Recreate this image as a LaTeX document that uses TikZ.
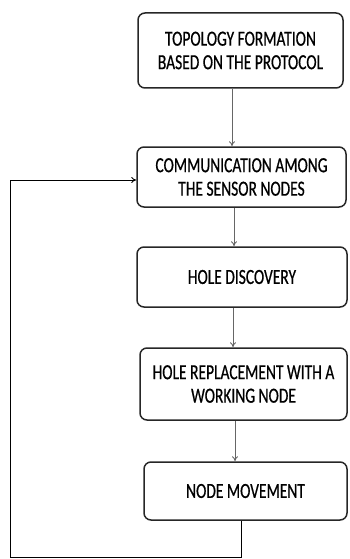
\documentclass[tikz,border=0pt]{standalone}
\usepackage{fontspec}
\setmainfont[FakeStretch=0.72,FakeBold=0.6]{Carlito}
\usetikzlibrary{arrows.meta}
\begin{document}
\begin{tikzpicture}[x=1pt,y=1pt,
  stepbox/.style={draw=black!85, line width=1.5pt, rounded corners=7pt, align=center,
    font=\fontsize{21.5}{23.5}\selectfont, inner sep=0pt, text=black},
  arr/.style={draw=black!60, line width=0.9pt, -{To[length=5pt,width=6pt]}},
  fbline/.style={draw=black, line width=0.9pt, -{To[length=5pt,width=6pt]}}]
\useasboundingbox (0,0) rectangle (349,-559);
\node[stepbox, minimum width=205pt, minimum height=75pt] (b1) at (240.5,-50.5) {TOPOLOGY FORMATION\\BASED ON THE PROTOCOL};
\node[stepbox, minimum width=209pt, minimum height=60pt] (b2) at (241.5,-177) {COMMUNICATION AMONG\\THE SENSOR NODES};
\node[stepbox, minimum width=210pt, minimum height=60pt] (b3) at (242,-277) {HOLE DISCOVERY};
\node[stepbox, minimum width=207pt, minimum height=72pt] (b4) at (243.5,-384) {HOLE REPLACEMENT WITH A\\WORKING NODE};
\node[stepbox, minimum width=203pt, minimum height=58pt] (b5) at (245.5,-491) {NODE MOVEMENT};
\coordinate (fb) at (10,-557);
\draw[arr] ([xshift=-8.5pt]b1.south) -- ([xshift=-9.5pt]b2.north);
\draw[arr] ([xshift=-7.5pt]b2.south) -- ([xshift=-8pt]b3.north);
\draw[arr] ([xshift=-9pt]b3.south) -- ([xshift=-10.5pt]b4.north);
\draw[arr] ([xshift=-8.5pt]b4.south) -- ([xshift=-10.5pt]b5.north);
\draw[fbline] ([xshift=-4.5pt]b5.south) |- (fb) |- ([yshift=-3pt]b2.west);
\end{tikzpicture}
\end{document}
